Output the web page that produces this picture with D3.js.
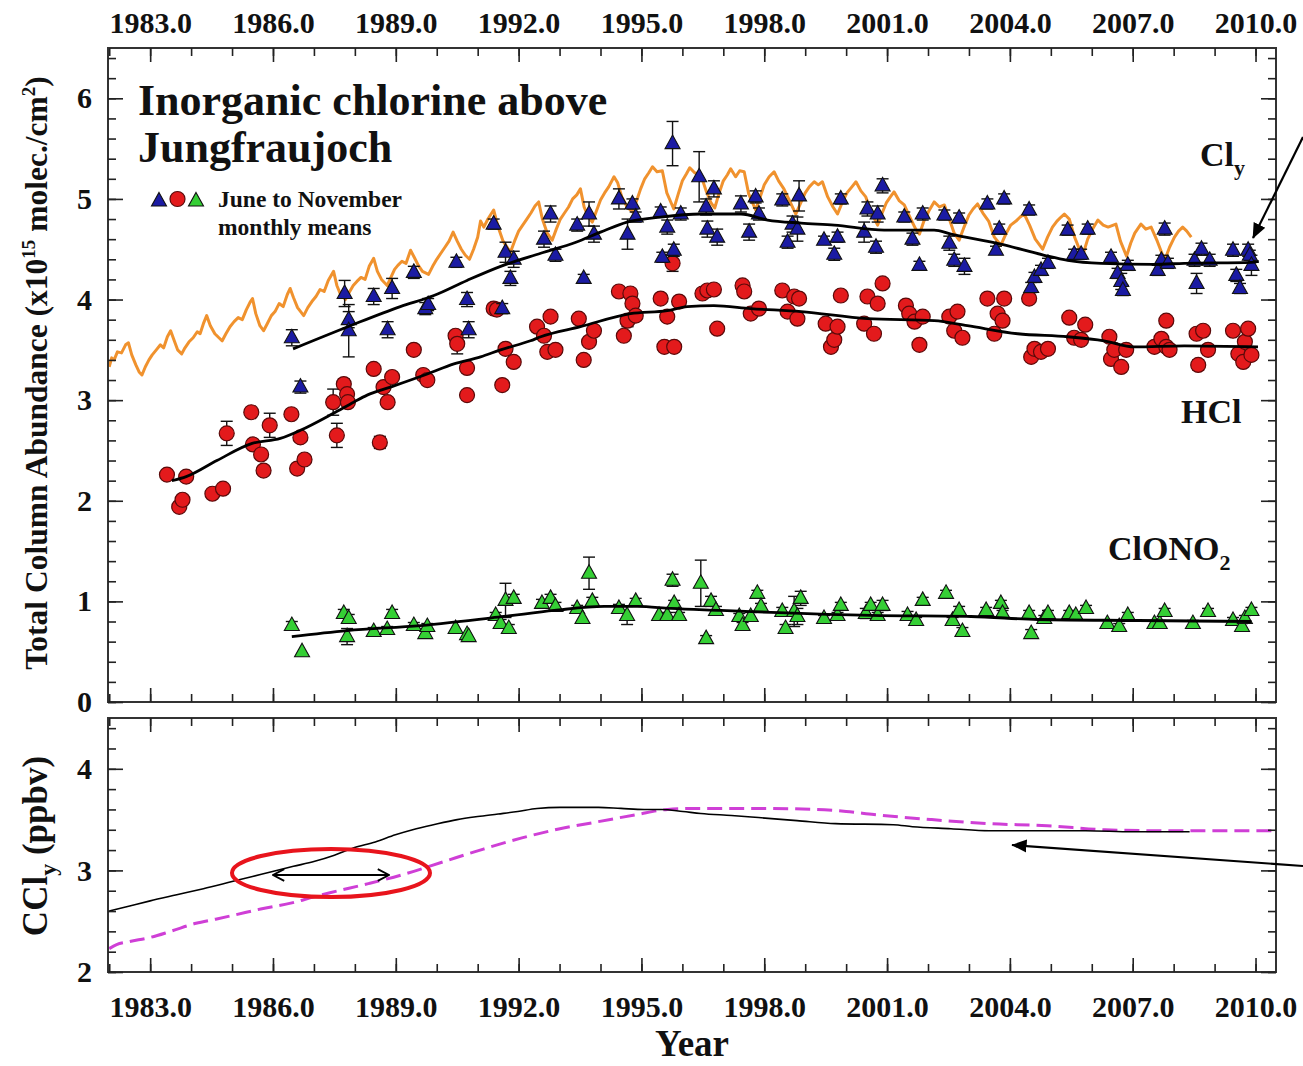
<!DOCTYPE html>
<html>
<head>
<meta charset="utf-8">
<script src="https://cdn.jsdelivr.net/npm/d3@7"></script>
<style>
  html, body { margin: 0; padding: 0; background: #fff; }
  svg { display: block; }
  text { font-family: "Liberation Serif", "Times New Roman", serif; font-weight: bold; fill: #111; }
</style>
</head>
<body>
<svg id="chart" width="1303" height="1066"></svg>
<script>
// ---- axis tick values ----
const yearMajorTicks = [1983, 1986, 1989, 1992, 1995, 1998, 2001, 2004, 2007, 2010];
const yearMinorTicks = d3.range(1982, 2011);
const columnMajorTicks = [0, 1, 2, 3, 4, 5, 6];
const columnMinorTicks = d3.range(0, 6.41, 0.2);
const cclyMajorTicks = [2, 3, 4];
const cclyMinorTicks = d3.range(2, 4.41, 0.2);

// ---- Jungfraujoch June-November monthly means [year, column (1e15 molec/cm2), error] ----
const clyPoints = [
  [1986.46,3.62,0.08],[1986.67,3.13,0.06],[1987.75,4.06,0.13],[1987.85,3.80,0.08],[1987.85,3.69,0.26],
  [1988.46,4.03,0.08],[1988.80,3.70,0.08],[1988.91,4.11,0.10],[1989.44,4.27,0.06],[1989.72,3.91,0.06],
  [1989.79,3.95,0.06],[1990.48,4.37,0.05],[1990.74,4.00,0.07],[1990.78,3.70,0.08],[1991.39,4.75,0.05],
  [1991.60,3.91,0.05],[1991.68,4.47,0.10],[1991.80,4.21,0.07],[1991.88,4.40,0.08],[1992.62,4.60,0.08],
  [1992.78,4.85,0.08],[1992.90,4.44,0.06],[1993.43,4.74,0.06],[1993.59,4.21,0.04],[1993.72,4.85,0.12],
  [1993.84,4.65,0.08],[1994.45,5.00,0.10],[1994.66,4.65,0.15],[1994.78,4.95,0.05],[1994.86,4.82,0.05],
  [1995.47,4.87,0.05],[1995.51,4.42,0.05],[1995.63,4.72,0.07],[1995.76,5.55,0.22],[1995.79,4.49,0.06],
  [1995.96,4.85,0.06],[1996.41,5.22,0.25],[1996.58,4.92,0.08],[1996.61,4.70,0.08],[1996.77,5.10,0.08],
  [1996.85,4.62,0.08],[1997.43,4.95,0.08],[1997.63,4.67,0.08],[1997.79,5.02,0.06],[1997.87,4.85,0.06],
  [1998.44,4.99,0.06],[1998.57,4.57,0.06],[1998.69,4.75,0.08],[1998.81,4.70,0.12],[1998.85,5.03,0.15],
  [1999.46,4.59,0.04],[1999.71,4.45,0.06],[1999.79,4.62,0.05],[1999.87,5.00,0.05],[2000.44,4.67,0.10],
  [2000.52,4.90,0.07],[2000.73,4.52,0.06],[2000.77,4.85,0.08],[2000.89,5.13,0.07],[2001.42,4.82,0.05],
  [2001.62,4.60,0.06],[2001.79,4.34,0.04],[2001.87,4.85,0.06],[2002.40,4.84,0.05],[2002.52,4.56,0.07],
  [2002.64,4.39,0.06],[2002.76,4.81,0.05],[2002.89,4.33,0.08],[2003.45,4.95,0.05],[2003.66,4.49,0.04],
  [2003.74,4.70,0.05],[2003.86,5.00,0.05],[2004.47,4.89,0.05],[2004.52,4.12,0.05],[2004.60,4.22,0.05],
  [2004.76,4.29,0.05],[2004.93,4.36,0.05],[2005.41,4.69,0.05],[2005.57,4.45,0.05],[2005.74,4.45,0.05],
  [2005.90,4.70,0.05],[2006.47,4.42,0.05],[2006.63,4.26,0.05],[2006.72,4.18,0.08],[2006.76,4.09,0.05],
  [2006.88,4.34,0.05],[2007.61,4.29,0.05],[2007.70,4.39,0.05],[2007.78,4.70,0.06],[2007.86,4.36,0.05],
  [2008.51,4.39,0.06],[2008.56,4.16,0.10],[2008.68,4.50,0.06],[2008.88,4.39,0.06],[2009.45,4.49,0.06],
  [2009.53,4.24,0.06],[2009.62,4.11,0.05],[2009.82,4.49,0.06],[2009.86,4.44,0.05],[2009.90,4.34,0.10]
];

const hclPoints = [
  [1983.41,2.26,0],[1983.71,1.94,0],[1983.79,2.01,0],[1983.88,2.24,0],[1984.52,2.07,0],[1984.78,2.12,0],
  [1984.87,2.67,0.12],[1985.47,2.88,0],[1985.51,2.56,0],[1985.71,2.46,0],[1985.77,2.30,0],[1985.92,2.75,0.12],
  [1986.45,2.86,0],[1986.59,2.32,0],[1986.67,2.63,0],[1986.77,2.41,0],[1987.47,2.98,0.13],[1987.56,2.65,0.12],
  [1987.73,3.16,0.05],[1987.81,3.06,0],[1987.83,2.98,0],[1988.46,3.31,0],[1988.61,2.58,0.06],[1988.70,3.13,0],
  [1988.80,2.98,0],[1988.91,3.23,0],[1989.44,3.50,0],[1989.67,3.25,0],[1989.77,3.20,0],[1990.46,3.64,0],
  [1990.50,3.56,0.10],[1990.74,3.32,0],[1990.74,3.05,0],[1991.39,3.91,0],[1991.47,3.90,0],[1991.60,3.15,0],
  [1991.68,3.51,0],[1991.88,3.38,0],[1992.45,3.73,0],[1992.62,3.64,0],[1992.70,3.48,0],[1992.78,3.83,0],
  [1992.90,3.50,0],[1993.47,3.81,0],[1993.59,3.40,0],[1993.72,3.58,0],[1993.84,3.69,0],[1994.45,4.08,0],
  [1994.57,3.64,0],[1994.66,3.79,0.06],[1994.73,4.06,0],[1994.78,3.96,0],[1994.86,3.84,0],[1995.47,4.01,0],
  [1995.56,3.53,0],[1995.63,3.83,0],[1995.76,4.36,0.08],[1995.80,3.53,0],[1995.92,3.98,0],[1996.49,4.06,0],
  [1996.61,4.09,0],[1996.77,4.10,0],[1996.85,3.71,0],[1997.47,4.14,0],[1997.51,4.08,0],[1997.67,3.86,0],
  [1997.87,3.91,0],[1998.44,4.09,0],[1998.57,3.88,0],[1998.73,4.03,0],[1998.81,3.81,0],[1998.85,4.01,0],
  [1999.50,3.76,0],[1999.63,3.53,0],[1999.71,3.60,0],[1999.79,3.73,0],[1999.87,4.04,0],[2000.44,3.76,0],
  [2000.52,4.03,0],[2000.68,3.66,0],[2000.77,3.96,0],[2000.89,4.16,0],[2001.46,3.94,0],[2001.54,3.86,0],
  [2001.67,3.78,0],[2001.79,3.55,0],[2001.87,3.83,0],[2002.52,3.83,0],[2002.64,3.69,0],[2002.72,3.88,0],
  [2002.84,3.62,0],[2003.45,4.01,0],[2003.62,3.66,0],[2003.70,3.86,0],[2003.82,3.79,0],[2003.86,4.01,0],
  [2004.47,4.01,0],[2004.52,3.43,0],[2004.60,3.51,0],[2004.76,3.48,0],[2004.93,3.51,0],[2005.45,3.82,0],
  [2005.57,3.62,0],[2005.74,3.60,0],[2005.84,3.75,0],[2006.43,3.63,0],[2006.47,3.41,0],[2006.55,3.50,0],
  [2006.72,3.33,0],[2006.84,3.50,0],[2007.53,3.53,0],[2007.70,3.61,0],[2007.82,3.79,0],[2007.82,3.53,0],
  [2007.90,3.50,0],[2008.56,3.66,0],[2008.60,3.35,0.05],[2008.72,3.69,0],[2008.84,3.50,0],[2009.45,3.69,0],
  [2009.58,3.46,0],[2009.70,3.38,0],[2009.74,3.58,0],[2009.82,3.71,0],[2009.90,3.45,0]
];

const clono2Points = [
  [1986.46,0.76,0.04],[1986.71,0.50,0],[1987.73,0.88,0.04],[1987.85,0.83,0.04],[1987.81,0.65,0.08],
  [1988.46,0.70,0.04],[1988.79,0.72,0.03],[1988.91,0.88,0.04],[1989.44,0.76,0.03],[1989.72,0.68,0.03],
  [1989.77,0.75,0.03],[1990.46,0.73,0],[1990.74,0.67,0],[1990.78,0.65,0],[1991.44,0.86,0.03],
  [1991.56,0.78,0.04],[1991.76,0.73,0.04],[1991.68,1.01,0.17],[1991.88,1.03,0.04],[1992.57,0.98,0.04],
  [1992.78,1.03,0.04],[1992.90,0.95,0.04],[1993.43,0.93,0.03],[1993.56,0.83,0],[1993.72,1.28,0.16],
  [1993.80,1.00,0.04],[1994.45,0.93,0.04],[1994.65,0.86,0.09],[1994.86,1.00,0.03],[1995.43,0.86,0],
  [1995.63,0.86,0.03],[1995.76,1.21,0.06],[1995.80,0.98,0.03],[1995.92,0.86,0.03],[1996.45,1.18,0.23],
  [1996.58,0.63,0.03],[1996.70,1.00,0.05],[1996.82,0.91,0.04],[1997.39,0.85,0.03],[1997.47,0.76,0.03],
  [1997.67,0.85,0.04],[1997.83,1.08,0.03],[1997.92,0.95,0.03],[1998.44,0.90,0.04],[1998.52,0.73,0.04],
  [1998.73,0.90,0.15],[1998.81,0.85,0.08],[1998.89,1.03,0.07],[1999.46,0.83,0.03],[1999.79,0.86,0.03],
  [1999.87,0.96,0.03],[2000.48,0.88,0.05],[2000.60,0.96,0.03],[2000.77,0.86,0.03],[2000.89,0.96,0.05],
  [2001.50,0.86,0.04],[2001.71,0.81,0.03],[2001.87,1.01,0.03],[2002.44,1.08,0.03],[2002.60,0.81,0.03],
  [2002.76,0.91,0.04],[2002.84,0.70,0.04],[2003.42,0.91,0.03],[2003.78,0.98,0.03],[2003.82,0.88,0.03],
  [2004.47,0.88,0.03],[2004.52,0.68,0.04],[2004.84,0.83,0.03],[2004.93,0.88,0.03],[2005.45,0.88,0.03],
  [2005.61,0.86,0.03],[2005.86,0.93,0.03],[2006.38,0.78,0.03],[2006.67,0.75,0.03],[2006.88,0.86,0.03],
  [2007.53,0.78,0.03],[2007.66,0.78,0.03],[2007.78,0.90,0.03],[2008.47,0.78,0.03],[2008.84,0.90,0.03],
  [2009.45,0.81,0.03],[2009.67,0.75,0.03],[2009.74,0.83,0.03],[2009.90,0.91,0.03]
];

// ---- smoothed fits [year, column] ----
const clyFit = [
  [1986.49,3.51],[1987.89,3.74],[1989.11,3.93],[1989.93,4.04],[1990.74,4.19],[1991.56,4.33],[1992.54,4.46],
  [1993.40,4.57],[1994.00,4.67],[1994.65,4.77],[1995.47,4.82],[1996.45,4.85],[1997.43,4.85],[1998.08,4.79],
  [1998.90,4.76],[1999.71,4.74],[2000.93,4.69],[2002.15,4.69],[2002.56,4.65],[2003.78,4.55],[2004.84,4.44],
  [2005.41,4.39],[2006.23,4.36],[2007.50,4.35],[2008.26,4.36],[2009.90,4.37],[2010.08,4.38]
];
const hclFit = [
  [1983.53,2.20],[1983.88,2.24],[1984.63,2.40],[1985.49,2.57],[1986.18,2.62],[1986.67,2.70],[1987.48,2.87],
  [1987.97,2.98],[1988.30,3.05],[1988.87,3.13],[1989.77,3.26],[1990.42,3.36],[1991.07,3.43],[1991.56,3.50],
  [1992.29,3.59],[1992.54,3.63],[1993.51,3.73],[1994.73,3.86],[1995.63,3.89],[1996.12,3.93],[1996.77,3.94],
  [1997.67,3.91],[1998.90,3.88],[2000.52,3.81],[2002.15,3.79],[2002.96,3.74],[2004.19,3.66],[2005.41,3.63],
  [2006.30,3.59],[2007.04,3.53],[2008.26,3.54],[2010.06,3.53]
];
const clono2Fit = [
  [1986.46,0.65],[1987.81,0.71],[1989.60,0.76],[1991.64,0.85],[1992.87,0.91],[1994.09,0.95],[1994.90,0.95],
  [1995.72,0.93],[1996.94,0.91],[1998.17,0.89],[2000.60,0.86],[2003.05,0.85],[2004.68,0.82],[2007.12,0.81],
  [2009.90,0.80]
];

// ---- modelled Cly column with seasonal cycle [year, column] ----
const clyModel = [
  [1982.00,3.33],[1982.06,3.42],[1982.12,3.40],[1982.20,3.48],[1982.30,3.47],[1982.40,3.55],[1982.47,3.57],
  [1982.55,3.45],[1982.65,3.35],[1982.73,3.28],[1982.80,3.25],[1982.88,3.33],[1982.97,3.40],[1983.05,3.45],
  [1983.15,3.50],[1983.25,3.55],[1983.33,3.52],[1983.42,3.63],[1983.50,3.69],[1983.58,3.60],[1983.67,3.50],
  [1983.77,3.46],[1983.85,3.52],[1983.95,3.58],[1984.05,3.62],[1984.15,3.68],[1984.22,3.66],[1984.30,3.76],
  [1984.38,3.84],[1984.47,3.74],[1984.58,3.66],[1984.68,3.62],[1984.76,3.59],[1984.85,3.66],[1984.95,3.73],
  [1985.05,3.78],[1985.15,3.82],[1985.25,3.80],[1985.35,3.90],[1985.45,3.98],[1985.50,4.01],[1985.58,3.86],
  [1985.68,3.74],[1985.77,3.69],[1985.86,3.76],[1985.96,3.84],[1986.05,3.88],[1986.15,3.96],[1986.25,3.93],
  [1986.35,4.05],[1986.42,4.11],[1986.50,4.02],[1986.60,3.92],[1986.75,3.84],[1986.85,3.92],[1986.95,3.98],
  [1987.05,4.03],[1987.15,4.10],[1987.25,4.08],[1987.35,4.19],[1987.48,4.28],[1987.56,4.14],[1987.65,4.05],
  [1987.77,4.00],[1987.86,4.07],[1987.96,4.14],[1988.05,4.18],[1988.15,4.22],[1988.25,4.20],[1988.35,4.33],
  [1988.46,4.41],[1988.55,4.28],[1988.65,4.20],[1988.79,4.14],[1988.88,4.22],[1988.97,4.30],[1989.05,4.34],
  [1989.15,4.38],[1989.25,4.36],[1989.36,4.49],[1989.45,4.42],[1989.55,4.34],[1989.65,4.28],[1989.80,4.25],
  [1989.90,4.33],[1990.00,4.40],[1990.10,4.46],[1990.20,4.52],[1990.30,4.58],[1990.40,4.67],[1990.50,4.58],
  [1990.60,4.50],[1990.70,4.44],[1990.80,4.40],[1990.90,4.50],[1991.00,4.62],[1991.07,4.78],[1991.15,4.72],
  [1991.25,4.80],[1991.39,4.89],[1991.50,4.72],[1991.62,4.58],[1991.72,4.52],[1991.80,4.47],[1991.90,4.58],
  [1992.00,4.68],[1992.10,4.74],[1992.20,4.80],[1992.30,4.86],[1992.40,4.93],[1992.49,4.97],[1992.58,4.80],
  [1992.70,4.66],[1992.82,4.59],[1992.92,4.70],[1993.02,4.80],[1993.12,4.86],[1993.22,4.92],[1993.32,5.00],
  [1993.42,5.04],[1993.51,5.10],[1993.60,4.92],[1993.70,4.82],[1993.80,4.77],[1993.90,4.88],[1994.00,4.99],
  [1994.10,5.06],[1994.20,5.12],[1994.33,5.22],[1994.42,5.16],[1994.52,5.02],[1994.65,4.92],[1994.78,4.87],
  [1994.88,4.98],[1994.98,5.10],[1995.08,5.20],[1995.18,5.26],[1995.27,5.32],[1995.38,5.27],[1995.51,5.28],
  [1995.62,5.06],[1995.79,4.90],[1995.90,5.05],[1996.00,5.18],[1996.10,5.25],[1996.18,5.31],[1996.30,5.26],
  [1996.45,5.24],[1996.58,5.08],[1996.70,4.96],[1996.79,4.91],[1996.90,5.06],[1997.00,5.18],[1997.10,5.24],
  [1997.18,5.30],[1997.30,5.22],[1997.40,5.28],[1997.51,5.27],[1997.62,5.05],[1997.79,4.89],[1997.90,5.02],
  [1998.00,5.14],[1998.12,5.22],[1998.24,5.27],[1998.35,5.18],[1998.48,5.10],[1998.62,4.98],[1998.77,4.85],
  [1998.88,4.95],[1999.00,5.06],[1999.10,5.12],[1999.22,5.17],[1999.32,5.14],[1999.42,5.17],[1999.55,5.02],
  [1999.68,4.92],[1999.79,4.85],[1999.90,4.96],[2000.02,5.06],[2000.14,5.12],[2000.24,5.17],[2000.36,5.08],
  [2000.48,5.02],[2000.62,4.86],[2000.77,4.74],[2000.88,4.86],[2000.98,4.96],[2001.08,5.02],[2001.17,5.07],
  [2001.30,4.98],[2001.42,4.94],[2001.58,4.80],[2001.70,4.70],[2001.79,4.65],[2001.90,4.78],[2002.02,4.88],
  [2002.15,4.97],[2002.28,4.92],[2002.40,4.94],[2002.52,4.80],[2002.64,4.66],[2002.76,4.59],[2002.88,4.72],
  [2003.00,4.84],[2003.10,4.90],[2003.21,4.95],[2003.34,4.86],[2003.48,4.78],[2003.62,4.62],[2003.78,4.54],
  [2003.90,4.65],[2004.02,4.74],[2004.15,4.78],[2004.25,4.82],[2004.35,4.85],[2004.48,4.74],[2004.62,4.60],
  [2004.80,4.50],[2004.92,4.62],[2005.04,4.72],[2005.15,4.78],[2005.25,4.82],[2005.33,4.85],[2005.45,4.80],
  [2005.58,4.62],[2005.70,4.50],[2005.78,4.44],[2005.90,4.60],[2006.02,4.70],[2006.15,4.79],[2006.28,4.74],
  [2006.40,4.72],[2006.59,4.75],[2006.70,4.58],[2006.85,4.43],[2006.95,4.56],[2007.05,4.66],[2007.20,4.75],
  [2007.32,4.70],[2007.45,4.72],[2007.60,4.58],[2007.78,4.39],[2007.90,4.52],[2008.02,4.62],[2008.12,4.68],
  [2008.22,4.72],[2008.32,4.68],[2008.43,4.62]
];

// ---- CCly (ppbv): tropospheric record and its time-shifted copy ----
const cclySurface = [
  [1982.00,2.60],[1982.50,2.65],[1983.00,2.70],[1983.65,2.76],[1984.30,2.82],[1985.00,2.89],[1985.50,2.94],
  [1985.99,2.99],[1986.50,3.04],[1987.02,3.09],[1987.50,3.15],[1987.96,3.22],[1988.50,3.28],[1988.99,3.35],
  [1989.50,3.41],[1990.02,3.46],[1990.50,3.50],[1991.00,3.53],[1991.50,3.555],[1991.98,3.58],[1992.45,3.61],
  [1993.01,3.62],[1993.50,3.62],[1993.95,3.62],[1994.50,3.61],[1995.07,3.60],[1995.50,3.60],[1996.01,3.58],
  [1996.45,3.56],[1997.20,3.54],[1997.86,3.52],[1998.80,3.49],[1999.74,3.46],[2001.15,3.45],[2001.62,3.43],
  [2002.56,3.41],[2003.50,3.39],[2004.50,3.39],[2005.85,3.39],[2007.00,3.38],[2008.39,3.38]
];
const cclyShifted = [
  [1982.00,2.23],[1982.18,2.27],[1982.50,2.30],[1983.00,2.34],[1983.50,2.40],[1984.12,2.48],[1984.60,2.52],
  [1985.05,2.56],[1985.70,2.62],[1986.46,2.68],[1987.00,2.74],[1987.39,2.78],[1988.33,2.87],[1989.27,2.97],
  [1990.20,3.09],[1991.14,3.21],[1992.08,3.32],[1993.01,3.41],[1993.95,3.48],[1994.89,3.55],[1995.64,3.60],
  [1996.30,3.61],[1997.00,3.61],[1997.86,3.61],[1999.27,3.60],[2000.00,3.58],[2000.68,3.55],[2002.09,3.50],
  [2003.50,3.46],[2004.91,3.44],[2006.32,3.40],[2007.73,3.39],[2009.00,3.39],[2010.50,3.39]
];

// ---- layout ----
const svg = d3.select("#chart");
const plotLeft = 108, plotRight = 1276;
const upperTop = 48, upperBottom = 702, lowerTop = 718, lowerBottom = 972;

const x = d3.scaleLinear().domain([1981.97, 2010.5]).range([plotLeft, plotRight]);
const yUpper = d3.scaleLinear().domain([0, 6.5]).range([upperBottom, upperTop]);
const yLower = d3.scaleLinear().domain([2, 4.5]).range([lowerBottom, lowerTop]);

const COLORS = { cly: "#1b1ba3", hcl: "#e31a1c", clono2: "#35cf35", model: "#f0922e", shifted: "#cf3fd6" };

svg.append("rect").attr("width", 1303).attr("height", 1066).attr("fill", "#fff");

const defs = svg.append("defs");
defs.append("clipPath").attr("id", "clipUpper").append("rect")
  .attr("x", plotLeft).attr("y", upperTop).attr("width", plotRight - plotLeft).attr("height", upperBottom - upperTop);
defs.append("clipPath").attr("id", "clipLower").append("rect")
  .attr("x", plotLeft).attr("y", lowerTop).attr("width", plotRight - plotLeft).attr("height", lowerBottom - lowerTop);
defs.append("marker").attr("id", "headFilled").attr("viewBox", "0 0 10 10")
  .attr("refX", 9.5).attr("refY", 5).attr("markerWidth", 7).attr("markerHeight", 7)
  .attr("markerUnits", "strokeWidth").attr("orient", "auto")
  .append("path").attr("d", "M0,0.8 L10,5 L0,9.2 Z").attr("fill", "#000");
defs.append("marker").attr("id", "headOpen").attr("viewBox", "0 0 10 10")
  .attr("refX", 9.5).attr("refY", 5).attr("markerWidth", 6).attr("markerHeight", 6)
  .attr("markerUnits", "strokeWidth").attr("orient", "auto-start-reverse")
  .append("path").attr("d", "M1,0.5 L9.5,5 L1,9.5").attr("fill", "none").attr("stroke", "#000").attr("stroke-width", 1.4);

// ---- axes helper ----
function styleAxis(g) {
  g.select(".domain").remove();
  g.selectAll(".tick line").attr("stroke", "#222").attr("stroke-width", 1.6);
  g.selectAll(".tick text").style("font-family", '"Liberation Serif", serif')
    .style("font-weight", "bold").style("font-size", "30px").attr("fill", "#111");
}
const fmtYear = d => d.toFixed(1);

function drawXAxes(yTopEdge, yBottomEdge, labelTop, labelBottom) {
  svg.append("g").attr("transform", `translate(0,${yTopEdge})`)
    .call(d3.axisTop(x).tickValues(yearMinorTicks).tickSize(-8).tickFormat(""))
    .call(styleAxis);
  svg.append("g").attr("transform", `translate(0,${yTopEdge})`)
    .call(d3.axisTop(x).tickValues(yearMajorTicks).tickSize(-14).tickPadding(15)
      .tickFormat(labelTop ? fmtYear : ""))
    .call(styleAxis);
  svg.append("g").attr("transform", `translate(0,${yBottomEdge})`)
    .call(d3.axisBottom(x).tickValues(yearMinorTicks).tickSize(-8).tickFormat(""))
    .call(styleAxis);
  svg.append("g").attr("transform", `translate(0,${yBottomEdge})`)
    .call(d3.axisBottom(x).tickValues(yearMajorTicks).tickSize(-14).tickPadding(24)
      .tickFormat(labelBottom ? fmtYear : ""))
    .call(styleAxis);
}

function drawYAxes(scale, major, minor) {
  svg.append("g").attr("transform", `translate(${plotLeft},0)`)
    .call(d3.axisLeft(scale).tickValues(minor).tickSize(-8).tickFormat(""))
    .call(styleAxis);
  svg.append("g").attr("transform", `translate(${plotLeft},0)`)
    .call(d3.axisLeft(scale).tickValues(major).tickSize(-15).tickPadding(16).tickFormat(d3.format("d")))
    .call(styleAxis);
  svg.append("g").attr("transform", `translate(${plotRight},0)`)
    .call(d3.axisRight(scale).tickValues(minor).tickSize(-8).tickFormat(""))
    .call(styleAxis);
  svg.append("g").attr("transform", `translate(${plotRight},0)`)
    .call(d3.axisRight(scale).tickValues(major).tickSize(-15).tickFormat(""))
    .call(styleAxis);
}

// ---- upper panel: column abundances ----
const upperPanel = svg.append("g").attr("clip-path", "url(#clipUpper)");

upperPanel.append("path").datum(clyModel)
  .attr("fill", "none").attr("stroke", COLORS.model).attr("stroke-width", 3)
  .attr("stroke-linejoin", "round")
  .attr("d", d3.line().x(d => x(d[0])).y(d => yUpper(d[1])));

const triPath = "M0,-8.5 L7.5,5 L-7.5,5 Z";

function drawPoints(points, kind, fill) {
  const g = upperPanel.append("g");
  const withErr = points.filter(d => d[2] > 0);
  g.selectAll("line.bar").data(withErr).join("line")
    .attr("x1", d => x(d[0])).attr("x2", d => x(d[0]))
    .attr("y1", d => yUpper(d[1] - d[2])).attr("y2", d => yUpper(d[1] + d[2]))
    .attr("stroke", "#111").attr("stroke-width", 1.4);
  [1, -1].forEach(s => {
    g.append("g").selectAll("line").data(withErr).join("line")
      .attr("x1", d => x(d[0]) - 6).attr("x2", d => x(d[0]) + 6)
      .attr("y1", d => yUpper(d[1] + s * d[2])).attr("y2", d => yUpper(d[1] + s * d[2]))
      .attr("stroke", "#111").attr("stroke-width", 1.4);
  });
  const marks = g.append("g");
  if (kind === "circle") {
    marks.selectAll("circle").data(points).join("circle")
      .attr("cx", d => x(d[0])).attr("cy", d => yUpper(d[1])).attr("r", 7.5)
      .attr("fill", fill).attr("stroke", "#5a0a0a").attr("stroke-width", 1.2);
  } else {
    marks.selectAll("path").data(points).join("path")
      .attr("transform", d => `translate(${x(d[0])},${yUpper(d[1])})`)
      .attr("d", triPath).attr("fill", fill).attr("stroke", "#111").attr("stroke-width", 1.1);
  }
}
drawPoints(hclPoints, "circle", COLORS.hcl);
drawPoints(clyPoints, "triangle", COLORS.cly);
drawPoints(clono2Points, "triangle", COLORS.clono2);

const fitLine = d3.line().curve(d3.curveMonotoneX).x(d => x(d[0])).y(d => yUpper(d[1]));
[clyFit, hclFit, clono2Fit].forEach(f => {
  upperPanel.append("path").datum(f).attr("fill", "none").attr("stroke", "#000")
    .attr("stroke-width", 2.8).attr("d", fitLine);
});

// ---- lower panel: CCly ----
const lowerPanel = svg.append("g").attr("clip-path", "url(#clipLower)");
const cclyLine = d3.line().curve(d3.curveMonotoneX).x(d => x(d[0])).y(d => yLower(d[1]));
lowerPanel.append("path").datum(cclyShifted).attr("fill", "none").attr("stroke", COLORS.shifted)
  .attr("stroke-width", 3).attr("stroke-dasharray", "15,7").attr("d", cclyLine);
lowerPanel.append("path").datum(cclySurface).attr("fill", "none").attr("stroke", "#000")
  .attr("stroke-width", 1.6).attr("d", cclyLine);

// ---- frames and axes ----
svg.append("rect").attr("x", plotLeft).attr("y", upperTop).attr("width", plotRight - plotLeft).attr("height", upperBottom - upperTop)
  .attr("fill", "none").attr("stroke", "#333").attr("stroke-width", 2);
svg.append("rect").attr("x", plotLeft).attr("y", lowerTop).attr("width", plotRight - plotLeft).attr("height", lowerBottom - lowerTop)
  .attr("fill", "none").attr("stroke", "#333").attr("stroke-width", 2);

drawXAxes(upperTop, upperBottom, true, false);
drawXAxes(lowerTop, lowerBottom, false, true);
drawYAxes(yUpper, columnMajorTicks, columnMinorTicks);
drawYAxes(yLower, cclyMajorTicks, cclyMinorTicks);

// ---- titles and labels ----
svg.append("text").attr("x", 138).attr("y", 115).style("font-size", "44px").text("Inorganic chlorine above");
svg.append("text").attr("x", 138).attr("y", 162).style("font-size", "44px").text("Jungfraujoch");

// legend
const leg = svg.append("g");
leg.append("path").attr("transform", "translate(159,201)").attr("d", triPath)
  .attr("fill", COLORS.cly).attr("stroke", "#111").attr("stroke-width", 1.1);
leg.append("circle").attr("cx", 177.5).attr("cy", 199).attr("r", 7.5)
  .attr("fill", COLORS.hcl).attr("stroke", "#5a0a0a").attr("stroke-width", 1.2);
leg.append("path").attr("transform", "translate(196,201)").attr("d", triPath)
  .attr("fill", COLORS.clono2).attr("stroke", "#111").attr("stroke-width", 1.1);
leg.append("text").attr("x", 218).attr("y", 207).style("font-size", "23.5px").text("June to November");
leg.append("text").attr("x", 218).attr("y", 235).style("font-size", "23.5px").text("monthly means");

// species labels
const clyLabel = svg.append("text").attr("x", 1200).attr("y", 166).style("font-size", "34px");
clyLabel.append("tspan").text("Cl");
clyLabel.append("tspan").attr("dy", 9).style("font-size", "22px").text("y");

svg.append("text").attr("x", 1181).attr("y", 423).style("font-size", "34px").text("HCl");

const cloLabel = svg.append("text").attr("x", 1108).attr("y", 560).style("font-size", "34px");
cloLabel.append("tspan").text("ClONO");
cloLabel.append("tspan").attr("dy", 10).style("font-size", "22px").text("2");

// axis titles
const yt = svg.append("text").attr("transform", "translate(47,373) rotate(-90)")
  .attr("text-anchor", "middle").style("font-size", "31.5px");
yt.append("tspan").text("Total Column Abundance (x10");
yt.append("tspan").attr("dy", -12).style("font-size", "19px").text("15");
yt.append("tspan").attr("dy", 12).text(" molec./cm");
yt.append("tspan").attr("dy", -12).style("font-size", "19px").text("2");
yt.append("tspan").attr("dy", 12).text(")");

const yb = svg.append("text").attr("transform", "translate(47,846) rotate(-90)")
  .attr("text-anchor", "middle").style("font-size", "35px");
yb.append("tspan").text("CCl");
yb.append("tspan").attr("dy", 9).style("font-size", "24px").text("y");
yb.append("tspan").attr("dy", -9).text(" (ppbv)");

svg.append("text").attr("x", 692).attr("y", 1056).attr("text-anchor", "middle")
  .style("font-size", "37px").text("Year");

// ---- annotations ----
svg.append("ellipse").attr("cx", 331).attr("cy", 873).attr("rx", 99).attr("ry", 24)
  .attr("fill", "none").attr("stroke", "#e8141c").attr("stroke-width", 4);
svg.append("line").attr("x1", 273).attr("y1", 875).attr("x2", 389).attr("y2", 875)
  .attr("stroke", "#000").attr("stroke-width", 2.2)
  .attr("marker-start", "url(#headOpen)").attr("marker-end", "url(#headOpen)");
svg.append("line").attr("x1", 1303).attr("y1", 137).attr("x2", 1253).attr("y2", 238)
  .attr("stroke", "#000").attr("stroke-width", 2.2).attr("marker-end", "url(#headFilled)");
svg.append("line").attr("x1", 1303).attr("y1", 866).attr("x2", 1012).attr("y2", 845)
  .attr("stroke", "#000").attr("stroke-width", 2.2).attr("marker-end", "url(#headFilled)");
</script>
</body>
</html>
